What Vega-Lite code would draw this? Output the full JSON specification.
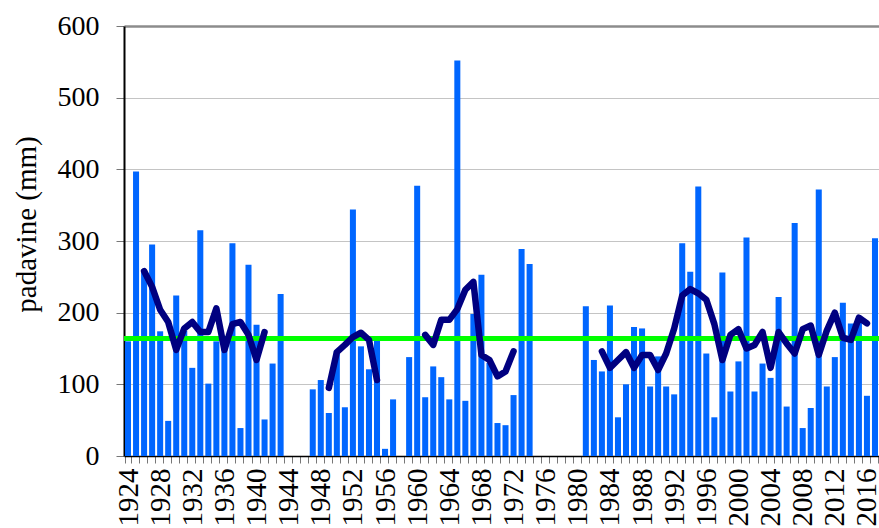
{
  "$schema": "https://vega.github.io/schema/vega-lite/v6.json",
  "width": 755,
  "height": 430,
  "autosize": "none",
  "padding": {"left": 124, "top": 26, "right": 0, "bottom": 72},
  "background": "white",
  "config": {
    "view": {"stroke": null},
    "font": "Liberation Serif"
  },
  "data": {
    "values": [
      {"year": 1924, "p": 160, "ma": null},
      {"year": 1925, "p": 397, "ma": null},
      {"year": 1926, "p": 260, "ma": 258},
      {"year": 1927, "p": 295, "ma": 236},
      {"year": 1928, "p": 174, "ma": 204},
      {"year": 1929, "p": 49, "ma": 187},
      {"year": 1930, "p": 224, "ma": 148},
      {"year": 1931, "p": 175, "ma": 178},
      {"year": 1932, "p": 123, "ma": 187},
      {"year": 1933, "p": 315, "ma": 173},
      {"year": 1934, "p": 101, "ma": 173},
      {"year": 1935, "p": 160, "ma": 206},
      {"year": 1936, "p": 155, "ma": 148},
      {"year": 1937, "p": 297, "ma": 184},
      {"year": 1938, "p": 39, "ma": 187},
      {"year": 1939, "p": 267, "ma": 169},
      {"year": 1940, "p": 183, "ma": 134},
      {"year": 1941, "p": 51, "ma": 173},
      {"year": 1942, "p": 129, "ma": null},
      {"year": 1943, "p": 226, "ma": null},
      {"year": 1944, "p": 0, "ma": null},
      {"year": 1945, "p": 0, "ma": null},
      {"year": 1946, "p": 0, "ma": null},
      {"year": 1947, "p": 93, "ma": null},
      {"year": 1948, "p": 106, "ma": null},
      {"year": 1949, "p": 60, "ma": 95},
      {"year": 1950, "p": 147, "ma": 145},
      {"year": 1951, "p": 68, "ma": 155},
      {"year": 1952, "p": 344, "ma": 166},
      {"year": 1953, "p": 153, "ma": 172},
      {"year": 1954, "p": 121, "ma": 162},
      {"year": 1955, "p": 161, "ma": 106},
      {"year": 1956, "p": 10, "ma": null},
      {"year": 1957, "p": 79, "ma": null},
      {"year": 1958, "p": 0, "ma": null},
      {"year": 1959, "p": 138, "ma": null},
      {"year": 1960, "p": 377, "ma": null},
      {"year": 1961, "p": 82, "ma": 169},
      {"year": 1962, "p": 125, "ma": 155},
      {"year": 1963, "p": 110, "ma": 190},
      {"year": 1964, "p": 79, "ma": 190},
      {"year": 1965, "p": 552, "ma": 205},
      {"year": 1966, "p": 77, "ma": 232},
      {"year": 1967, "p": 198, "ma": 243},
      {"year": 1968, "p": 253, "ma": 141},
      {"year": 1969, "p": 130, "ma": 134},
      {"year": 1970, "p": 46, "ma": 111},
      {"year": 1971, "p": 43, "ma": 118},
      {"year": 1972, "p": 85, "ma": 146},
      {"year": 1973, "p": 289, "ma": null},
      {"year": 1974, "p": 268, "ma": null},
      {"year": 1975, "p": 0, "ma": null},
      {"year": 1976, "p": 0, "ma": null},
      {"year": 1977, "p": 0, "ma": null},
      {"year": 1978, "p": 0, "ma": null},
      {"year": 1979, "p": 0, "ma": null},
      {"year": 1980, "p": 0, "ma": null},
      {"year": 1981, "p": 209, "ma": null},
      {"year": 1982, "p": 134, "ma": null},
      {"year": 1983, "p": 118, "ma": 146},
      {"year": 1984, "p": 210, "ma": 123},
      {"year": 1985, "p": 54, "ma": 134},
      {"year": 1986, "p": 100, "ma": 145},
      {"year": 1987, "p": 180, "ma": 123},
      {"year": 1988, "p": 178, "ma": 141},
      {"year": 1989, "p": 97, "ma": 141},
      {"year": 1990, "p": 139, "ma": 120},
      {"year": 1991, "p": 97, "ma": 143},
      {"year": 1992, "p": 86, "ma": 178},
      {"year": 1993, "p": 297, "ma": 224},
      {"year": 1994, "p": 257, "ma": 233},
      {"year": 1995, "p": 376, "ma": 227},
      {"year": 1996, "p": 143, "ma": 218},
      {"year": 1997, "p": 54, "ma": 184},
      {"year": 1998, "p": 256, "ma": 134},
      {"year": 1999, "p": 90, "ma": 169},
      {"year": 2000, "p": 132, "ma": 177},
      {"year": 2001, "p": 305, "ma": 150},
      {"year": 2002, "p": 90, "ma": 155},
      {"year": 2003, "p": 129, "ma": 173},
      {"year": 2004, "p": 109, "ma": 123},
      {"year": 2005, "p": 222, "ma": 173},
      {"year": 2006, "p": 69, "ma": 157},
      {"year": 2007, "p": 325, "ma": 143},
      {"year": 2008, "p": 39, "ma": 177},
      {"year": 2009, "p": 67, "ma": 182},
      {"year": 2010, "p": 372, "ma": 141},
      {"year": 2011, "p": 97, "ma": 175},
      {"year": 2012, "p": 138, "ma": 200},
      {"year": 2013, "p": 214, "ma": 165},
      {"year": 2014, "p": 185, "ma": 162},
      {"year": 2015, "p": 193, "ma": 193},
      {"year": 2016, "p": 84, "ma": 185},
      {"year": 2017, "p": 304, "ma": null}
    ]
  },
  "layer": [
    {
      "mark": {"type": "bar", "color": "#0066ff"},
      "encoding": {
        "x": {
          "field": "year",
          "type": "ordinal",
          "scale": {"paddingInner": 0.25, "paddingOuter": 0.125},
          "axis": {
            "title": null,
            "labelExpr": "datum.value % 4 == 0 ? datum.label : ''",
            "labelAngle": 270,
            "labelFont": "Liberation Serif",
            "labelFontSize": 29,
            "labelColor": "black",
            "labelPadding": 5,
            "labelBaseline": "middle",
            "labelAlign": "right",
            "labelOverlap": false,
            "tickBand": "extent",
            "tickColor": "#777777",
            "tickSize": 7,
            "domainColor": "black",
            "domainWidth": 1.5,
            "grid": false
          }
        },
        "y": {
          "field": "p",
          "type": "quantitative",
          "scale": {"domain": [0, 600], "nice": false},
          "axis": {
            "title": "padavine (mm)",
            "values": [0, 100, 200, 300, 400, 500, 600],
            "titleFont": "Liberation Serif",
            "titleFontSize": 29,
            "titleFontWeight": "normal",
            "titleColor": "black",
            "titleAngle": 270,
            "titleAlign": "center",
            "titleBaseline": "middle",
            "titleX": -98,
            "titleY": 198,
            "labelFont": "Liberation Serif",
            "labelFontSize": 28,
            "labelColor": "black",
            "labelPadding": 17,
            "tickSize": 8,
            "tickColor": "#777777",
            "domainColor": "black",
            "domainWidth": 2,
            "grid": true,
            "gridColor": {"condition": {"test": "datum.value == 600", "value": "#8c8c8c"}, "value": "#c4c4c4"},
            "gridWidth": {"condition": {"test": "datum.value == 600", "value": 2.5}, "value": 1}
          }
        }
      }
    },
    {
      "mark": {"type": "rule", "color": "#00ff00", "strokeWidth": 4.5},
      "encoding": {"y": {"datum": 164}}
    },
    {
      "mark": {"type": "line", "color": "#000080", "strokeWidth": 6.5, "strokeCap": "round", "strokeJoin": "round", "invalid": "break-paths-show-domains"},
      "encoding": {
        "x": {"field": "year", "type": "ordinal"},
        "y": {"field": "ma", "type": "quantitative"}
      }
    }
  ]
}
